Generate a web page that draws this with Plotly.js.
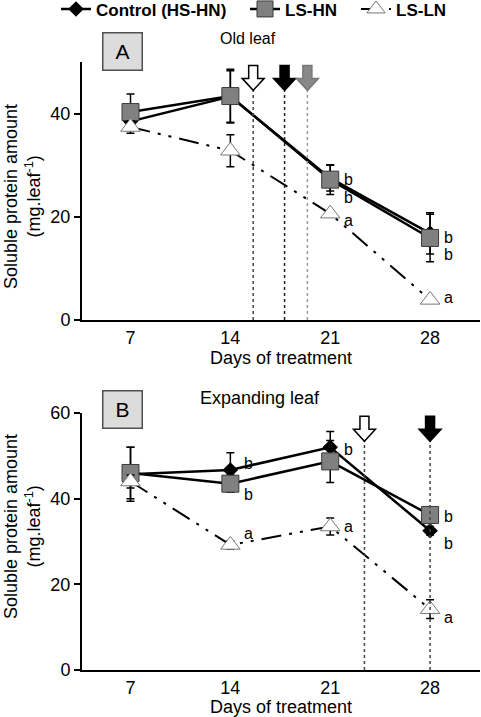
<!DOCTYPE html>
<html><head><meta charset="utf-8">
<script src="https://cdn.plot.ly/plotly-3.0.1.min.js"></script>
<style>html,body{margin:0;padding:0;background:#fff}#chart{width:481px;height:717px}</style>
</head><body><div id="chart"></div>
<script>
// ---- data ----
const days = [7, 14, 21, 28];
const seriesNames = ['Control (HS-HN)', 'LS-HN', 'LS-LN'];

// Panel A: Old leaf
const oldControl    = [38.5, 43.3, 27.5, 16.8];
const oldControlErr = [1.0, 5.0, 2.5, 4.0];
const oldLSHN       = [40.3, 43.4, 27.2, 15.9];
const oldLSHNErr    = [3.5, 5.2, 2.9, 4.6];
const oldLSLN       = [37.4, 32.8, 20.6, 3.9];
const oldLSLNErr    = [1.2, 3.1, 0.5, 0.5];
const oldLetterDays = [21, 21, 21, 28, 28, 28];
const oldLetterY    = [27.2, 23.8, 19.3, 15.9, 12.7, 4.3];
const oldLetters    = ['b', 'b', 'a', 'b', 'b', 'a'];
const oldArrowDays  = [15.6, 17.8, 19.4];

// Panel B: Expanding leaf
const expControl    = [45.7, 46.7, 52.0, 32.5];
const expControlErr = [6.3, 4.0, 3.7, 1.0];
const expLSHN       = [46.0, 43.5, 48.7, 36.2];
const expLSHNErr    = [6.0, 2.0, 4.9, 1.5];
const expLSLN       = [44.0, 29.2, 33.5, 14.2];
const expLSLNErr    = [1.5, 1.0, 2.0, 2.2];
const expLetterDays = [14, 14, 14, 21, 21, 28, 28, 28];
const expLetterY    = [48.3, 40.9, 31.8, 51.4, 33.5, 35.8, 29.6, 12.3];
const expLetters    = ['b', 'b', 'a', 'b', 'a', 'b', 'b', 'a'];
const expArrowDays  = [23.4, 28];

const panelTitles = ['Old leaf', 'Expanding leaf'];
const panelLabels = ['A', 'B'];
const yTicksA = [0, 20, 40];
const yTicksB = [0, 20, 40, 60];

// ---- styles ----
const FONT = 'Liberation Sans, Arial, sans-serif';
const styles = [
  {line: {color: '#000', width: 2.5}, marker: {symbol: 'diamond', size: 12, color: '#000'}},
  {line: {color: '#000', width: 2.5}, marker: {symbol: 'square', size: 17, color: '#808080', line: {color: '#3a3a3a', width: 1}}},
  {line: {color: '#000', width: 2, dash: '20px,8px,3px,8px,3px,8px'}, marker: {symbol: 'triangle-up', size: 17, color: '#fff', line: {color: '#777', width: 1}}}
];
const legendIds = ['legend', 'legend2', 'legend3'];

function mk(x, y, err, i, xa, ya, show) {
  return {
    type: 'scatter', mode: 'lines+markers', x: x, y: y, name: seriesNames[i],
    xaxis: xa, yaxis: ya, showlegend: show, legend: legendIds[i],
    line: styles[i].line, marker: styles[i].marker,
    error_y: {type: 'data', array: err, visible: true, color: '#000', thickness: 1.5, width: 4}
  };
}

const traces = [
  mk(days, oldControl, oldControlErr, 0, 'x', 'y', true),
  mk(days, oldLSHN, oldLSHNErr, 1, 'x', 'y', true),
  mk(days, oldLSLN, oldLSLNErr, 2, 'x', 'y', true),
  mk(days, expControl, expControlErr, 0, 'x2', 'y2', false),
  mk(days, expLSHN, expLSHNErr, 1, 'x2', 'y2', false),
  mk(days, expLSLN, expLSLNErr, 2, 'x2', 'y2', false)
];

// ---- geometry (pixel layout) ----
const W = 481, H = 717, L = 82, R = 1;
const PW = W - L - R;
const px2x = p => (p - L) / PW;
const py2y = p => (H - p) / H;

const annotations = [];
function letters(daysArr, ys, labs, xr, yr) {
  labs.forEach((t, k) => annotations.push({
    x: daysArr[k], y: ys[k], xref: xr, yref: yr, text: t, showarrow: false,
    xanchor: 'center', yanchor: 'middle',
    xshift: 18, font: {family: FONT, size: 16, color: '#000'}
  }));
}
letters(oldLetterDays, oldLetterY, oldLetters, 'x', 'y');
letters(expLetterDays, expLetterY, expLetters, 'x2', 'y2');

// panel boxes & titles
[[51, 248, 39, 16], [409, 260, 398, 18]].forEach((g, k) => {
  annotations.push({
    x: px2x(122), y: py2y(g[0]), xref: 'paper', yref: 'paper', text: panelLabels[k],
    xanchor: 'center', yanchor: 'middle',
    showarrow: false, width: 36, height: 34, bgcolor: '#dcdcdc', bordercolor: '#505050', borderwidth: 1.5,
    font: {family: FONT, size: 21, color: '#000'}
  });
  annotations.push({
    x: px2x(g[1]), y: py2y(g[2]), xref: 'paper', yref: 'paper', text: panelTitles[k],
    xanchor: 'center', yanchor: 'middle',
    showarrow: false, font: {family: FONT, size: g[3], color: '#000'}
  });
});
// y titles
[197, 527].forEach(cy => {
  annotations.push({
    x: px2x(22), y: py2y(cy), xref: 'paper', yref: 'paper', textangle: -90,
    xanchor: 'center', yanchor: 'middle',
    text: 'Soluble protein amount<br>(mg.leaf<sup>-1</sup>)', showarrow: false,
    font: {family: FONT, size: 18, color: '#000'}
  });
});

// arrows + dotted lines
const shapes = [];
const ARROW = 'M0,0 L11,12 L4.5,12 L4.5,25 L-4.5,25 L-4.5,12 L-11,12 Z';
function arrows(daysArr, fills, lineCols, xr, yr) {
  daysArr.forEach((d, k) => {
    shapes.push({type: 'line', xref: xr, yref: yr + ' domain', x0: d, x1: d, y0: 0, y1: 0.89,
      line: {color: lineCols[k], width: 1.5, dash: 'dot'}});
    shapes.push({type: 'path', xref: xr, yref: yr + ' domain', xsizemode: 'pixel', ysizemode: 'pixel',
      xanchor: d, yanchor: 0.89, path: ARROW, fillcolor: fills[k],
      line: {color: fills[k] === '#888' ? '#777' : '#000', width: 1.5}});
  });
}
arrows(oldArrowDays, ['#fff', '#000', '#888'], ['#444', '#222', '#999'], 'x', 'y');
arrows(expArrowDays, ['#fff', '#000'], ['#444', '#444'], 'x2', 'y2');

const xCommon = {
  range: [3.6, 31.5], tickvals: days, ticks: '', showline: true, linewidth: 2, linecolor: '#000',
  showgrid: false, zeroline: false, tickfont: {family: FONT, size: 18, color: '#000'},
  title: {text: 'Days of treatment', font: {family: FONT, size: 18, color: '#000'}, standoff: 4}
};
const yCommon = {
  ticks: 'outside', ticklen: 6, tickwidth: 2, tickcolor: '#000', showline: true, linewidth: 2, linecolor: '#000',
  showgrid: false, zeroline: false, tickfont: {family: FONT, size: 18, color: '#000'}
};

function legendAt(pxLeft) {
  return {orientation: 'h', x: px2x(pxLeft), y: 1.012, xanchor: 'left', yanchor: 'top',
    font: {family: FONT, size: 17, color: '#000', weight: 'bold'}, bgcolor: 'rgba(0,0,0,0)'};
}

const layout = {
  width: W, height: H, margin: {l: L, r: R, t: 0, b: 0, autoexpand: false},
  paper_bgcolor: '#fff', plot_bgcolor: '#fff',
  font: {family: FONT, color: '#000'},
  xaxis: Object.assign({}, xCommon, {anchor: 'y', automargin: false}),
  yaxis: Object.assign({}, yCommon, {anchor: 'x', automargin: false, domain: [py2y(320), py2y(62)], range: [0, 50], tickvals: yTicksA}),
  xaxis2: Object.assign({}, xCommon, {anchor: 'y2', automargin: false}),
  yaxis2: Object.assign({}, yCommon, {anchor: 'x2', automargin: false, domain: [py2y(670), py2y(413)], range: [0, 60], tickvals: yTicksB}),
  legend: legendAt(56),
  legend2: legendAt(245),
  legend3: legendAt(356),
  annotations: annotations, shapes: shapes
};

Plotly.newPlot('chart', traces, layout, {displayModeBar: false, staticPlot: true});
</script></body></html>
